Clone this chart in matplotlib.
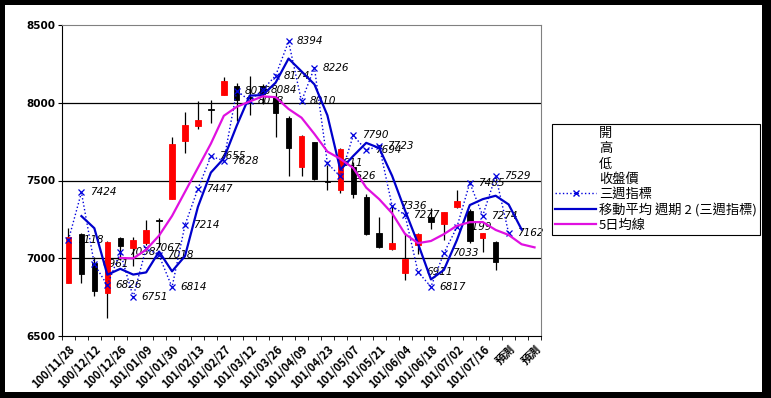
import numpy as np
import matplotlib.pyplot as plt
from matplotlib.lines import Line2D
from matplotlib.patches import Rectangle

plt.rcParams['font.family'] = ['Noto Sans CJK TC', 'DejaVu Sans']

# weekly categories (ROC dates), last ones are forecasts
dates = ['100/11/28', '100/12/05', '100/12/12', '100/12/19', '100/12/26',
         '101/01/02', '101/01/09', '101/01/16', '101/01/30', '101/02/06',
         '101/02/13', '101/02/20', '101/02/27', '101/03/05', '101/03/12',
         '101/03/19', '101/03/26', '101/04/02', '101/04/09', '101/04/16',
         '101/04/23', '101/04/30', '101/05/07', '101/05/14', '101/05/21',
         '101/05/28', '101/06/04', '101/06/11', '101/06/18', '101/06/25',
         '101/07/02', '101/07/09', '101/07/16', '101/07/23',
         '預測', '預測', '預測']

# candle data (cats 0-33)
open_ = [6843, 7156, 6971, 6778, 7128, 7068, 7100, 7247, 7380, 7751,
         7848, 7962, 8050, 8105, 8034, 8105, 8034, 7905, 7584, 7745,
         7495, 7439, 7589, 7395, 7165, 7062, 6907, 7085, 7263, 7222,
         7330, 7306, 7132, 7107]
high = [7193, 7160, 7006, 7113, 7139, 7135, 7246, 7257, 7781, 7942,
        8013, 8019, 8167, 8125, 8170, 8120, 8066, 7916, 7790, 7750,
        7600, 7707, 7616, 7410, 7267, 7336, 7160, 7160, 7320, 7300,
        7439, 7315, 7165, 7110]
low = [6843, 6839, 6759, 6614, 6987, 6950, 7085, 7074, 7380, 7674,
       7834, 7867, 8050, 7880, 7920, 7990, 7777, 7530, 7530, 7505,
       7440, 7420, 7385, 7150, 7068, 7053, 6860, 7025, 7185, 7118,
       7322, 7097, 7042, 6925]
close = [7135, 6899, 6791, 7106, 7081, 7117, 7182, 7242, 7734, 7858,
         7891, 7956, 8141, 8020, 8030, 8056, 7935, 7709, 7788, 7509,
         7490, 7701, 7413, 7158, 7075, 7100, 6995, 7156, 7230, 7295,
         7370, 7110, 7160, 6976]

# 三週指標 (cats 0-34)
indicator = [7118, 7424, 6961, 6826, 7038, 6751, 7067, 7018, 6814, 7214,
             7447, 7655, 7628, 8078, 8013, 8084, 8174, 8394, 8010, 8226,
             7611, 7526, 7790, 7694, 7723, 7336, 7277, 6911, 6817, 7033,
             7199, 7485, 7274, 7529, 7162]

# 移動平均 週期 2 (cats 1-35)
ma2 = [7271, 7193, 6894, 6932, 6895, 6909, 7043, 6916, 7014, 7331,
       7551, 7642, 7853, 8046, 8049, 8129, 8284, 8202, 8118, 7919,
       7569, 7658, 7742, 7709, 7530, 7307, 7094, 6864, 6925, 7116,
       7342, 7380, 7402, 7346, 7185]

# 5日均線 (cats 4-36)
ma5 = [7002, 6999, 7055, 7146, 7272, 7427, 7582, 7737, 7916, 7974,
       8008, 8041, 8036, 7960, 7904, 7799, 7686, 7639, 7580, 7454,
       7380, 7289, 7156, 7097, 7111, 7155, 7209, 7232, 7233, 7182,
       7150, 7090, 7070]

W, H = 771, 398
fig = plt.figure(figsize=(W / 100, H / 100), dpi=100, facecolor='black')
fig.patches.append(Rectangle((5 / W, 6 / H), 757 / W, 387 / H,
                             transform=fig.transFigure, facecolor='white',
                             edgecolor='none', zorder=-5))
ax = fig.add_axes([62 / W, 1 - 336 / H, 479 / W, 311 / H])
ax.set_zorder(2)

n = len(dates)
x_c = np.arange(len(open_))
o = np.array(open_)
c = np.array(close)
cols = np.where(c >= o, '#ff0000', '#000000')

ax.vlines(x_c, low, high, color='black', lw=0.9, zorder=3)
ax.bar(x_c, c - o, bottom=o, width=0.42, color=cols, edgecolor=cols,
       lw=0.6, zorder=4)

x_i = np.arange(len(indicator))
ax.plot(x_i, indicator, ls=':', color='#0000dd', lw=1.0, marker='x',
        ms=5, mew=0.9, zorder=5)
for xi, v in zip(x_i, indicator):
    ax.annotate(str(v), (xi, v), xytext=(6, 0), textcoords='offset points',
                ha='left', va='center', fontsize=7.5, style='italic',
                family='DejaVu Sans', zorder=2)

ax.plot(np.arange(1, 1 + len(ma2)), ma2, color='#0000cc', lw=1.6, zorder=6)
ax.plot(np.arange(4, 4 + len(ma5)), ma5, color='#e010e0', lw=1.6, zorder=6)

ax.set_xlim(-0.5, n - 0.5)
ax.set_ylim(6500, 8500)
ax.set_yticks([6500, 7000, 7500, 8000, 8500])
ax.set_yticklabels(['6500', '7000', '7500', '8000', '8500'],
                   family='DejaVu Sans', fontsize=7.5, fontweight='bold')
for yv in [7000, 7500, 8000]:
    ax.axhline(yv, color='black', lw=0.9, zorder=1)

ax.set_xticks(np.arange(-0.5, n, 1), minor=True)
ax.set_xticks(np.arange(0, n, 2))
ax.set_xticklabels(dates[::2], rotation=45, ha='right', rotation_mode='anchor',
                   fontsize=8, fontweight='bold')
ax.tick_params(axis='x', which='major', length=0, pad=5)
ax.tick_params(axis='x', which='minor', length=3, direction='out')
ax.tick_params(axis='y', length=3, direction='out', pad=2)

for s in ['top', 'right']:
    ax.spines[s].set_color('#808080')
for s in ['left', 'bottom']:
    ax.spines[s].set_color('black')

handles = [Line2D([], [], color='none'), Line2D([], [], color='none'),
           Line2D([], [], color='none'), Line2D([], [], color='none'),
           Line2D([], [], color='#0000dd', ls=':', marker='x', ms=5, lw=1.0),
           Line2D([], [], color='#0000cc', lw=1.6),
           Line2D([], [], color='#e010e0', lw=1.6)]
names = ['開', '高', '低', '收盤價', '三週指標', '移動平均 週期 2 (三週指標)', '5日均線']
leg = fig.legend(handles, names, loc='upper left',
                 bbox_to_anchor=(552 / W, 1 - 124 / H),
                 bbox_transform=fig.transFigure, borderaxespad=0,
                 fontsize=9.5, handlelength=3.1, handletextpad=0.2,
                 labelspacing=0.16, borderpad=0.25, fancybox=False,
                 framealpha=1, edgecolor='black')
leg.get_frame().set_linewidth(0.8)

fig.savefig('out.png', dpi=100, facecolor=fig.get_facecolor())
